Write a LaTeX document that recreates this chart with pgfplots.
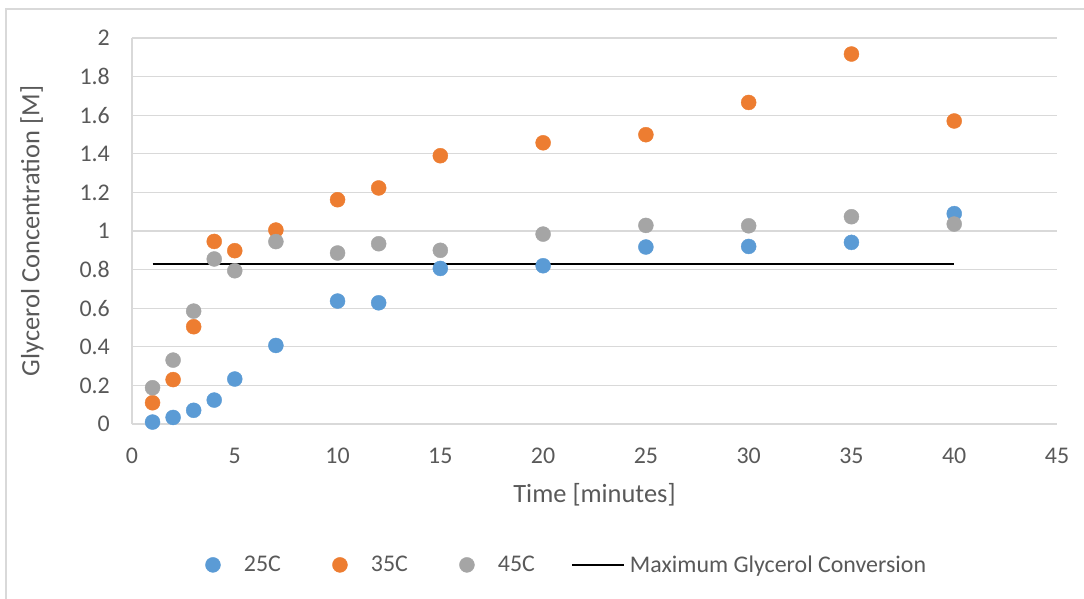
\documentclass[border=0pt]{standalone}
\usepackage{pgfplots}
\pgfplotsset{compat=1.18}
\usepackage{fontspec}
\setmainfont{Carlito}
\definecolor{cblue}{HTML}{5B9BD5}
\definecolor{corange}{HTML}{ED7D31}
\definecolor{cgray}{HTML}{A5A5A5}
\definecolor{ctext}{HTML}{595959}
\definecolor{cgrid}{HTML}{D9D9D9}
\pgfplotsset{
  dotlegend/.style={legend image code/.code={\path[draw=none,fill=none] (0bp,0bp) -- (41bp,0bp);\draw[mark repeat=2,mark phase=2,##1] plot coordinates {(0bp,0bp)(10bp,0bp)(20bp,0bp)};}},
  linelegend/.style={legend image code/.code={\path[draw=none,fill=none] (0bp,0bp) -- (46bp,0bp);\draw[overlay,##1] (-12bp,0bp) -- (40bp,0bp);}},
}
\begin{document}
\begin{tikzpicture}
\useasboundingbox (-132bp,-175bp) rectangle (952bp,424bp);
\draw[cgrid, line width=1.3bp] (-126bp,-200bp) -- (-126bp,415bp) -- (1000bp,415bp);
\begin{axis}[
  at={(0,0)}, anchor=south west,
  width=925bp, height=386bp, scale only axis,
  xmin=0, xmax=45, ymin=0, ymax=2,
  xtick distance=5, ytick distance=0.2,
  axis x line*=bottom, axis y line*=left,
  hide obscured x ticks=false, hide obscured y ticks=false,
  axis line style={cgrid, line width=1.3bp, -},
  major tick length=0pt,
  ymajorgrids, grid style={cgrid, line width=1.3bp},
  /pgf/number format/assume math mode=true,
  ticklabel style={font=\fontsize{24}{28}\selectfont, text=ctext, inner sep=0pt},
  yticklabel style={anchor=east, xshift=-22bp},
  xticklabel style={anchor=north, yshift=-24bp},
  xlabel={Time [minutes]},
  ylabel={Glycerol Concentration [M]},
  label style={font=\fontsize{26.5}{30}\selectfont, text=ctext},
  xlabel style={at={(rel axis cs:0.5,0)}, yshift=-71bp, anchor=center},
  ylabel style={at={(rel axis cs:-0.1081,0.5)}, anchor=center},
  legend columns=4,
  legend style={draw=none, fill=none, at={(0.4676,-0.365)}, anchor=center,
    font=\fontsize{24}{28}\selectfont, text=ctext, inner sep=0pt,
    nodes={inner sep=0pt},
    /tikz/every odd column/.append style={column sep=0bp},
    /tikz/every even column/.append style={column sep=49bp}},
  clip=false,
]
\addplot[only marks, mark=*, mark size=7.5bp, mark options={draw=cblue, fill=cblue}, dotlegend]
  coordinates {(1,0.010) (2,0.034) (3,0.071) (4,0.124) (5,0.233) (7,0.407) (10,0.637) (12,0.628) (15,0.806) (20,0.820) (25,0.917) (30,0.920) (35,0.941) (40,1.090)};
\addlegendentry{25C}
\addplot[only marks, mark=*, mark size=7.5bp, mark options={draw=corange, fill=corange}, dotlegend]
  coordinates {(1,0.110) (2,0.230) (3,0.504) (4,0.946) (5,0.898) (7,1.005) (10,1.162) (12,1.223) (15,1.390) (20,1.457) (25,1.499) (30,1.666) (35,1.917) (40,1.570)};
\addlegendentry{35C}
\addplot[only marks, mark=*, mark size=7.5bp, mark options={draw=cgray, fill=cgray}, dotlegend]
  coordinates {(1,0.188) (2,0.331) (3,0.585) (4,0.855) (5,0.794) (7,0.945) (10,0.886) (12,0.934) (15,0.900) (20,0.984) (25,1.029) (30,1.027) (35,1.074) (40,1.036)};
\addlegendentry{45C}
\addplot[black, line width=2bp, no marks, linelegend]
  coordinates {(1,0.827) (40,0.827)};
\addlegendentry{Maximum Glycerol Conversion}
\end{axis}
\end{tikzpicture}
\end{document}
